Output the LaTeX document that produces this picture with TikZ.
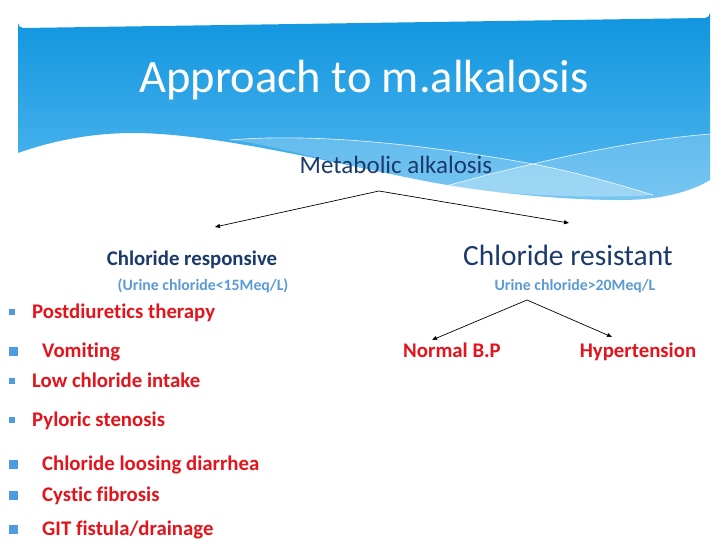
\documentclass[tikz,border=0pt]{standalone}
\usepackage{fontspec}
\setmainfont{Carlito}[Ligatures=NoCommon]
\usetikzlibrary{arrows.meta}
\definecolor{hdrtop}{HTML}{0F95DF}
\definecolor{hdrbot}{HTML}{55B8EF}
\definecolor{darkblue}{HTML}{1B3A6B}
\definecolor{lightblue}{HTML}{5B9BD5}
\definecolor{redtxt}{HTML}{E3141C}
\definecolor{bullet}{HTML}{4F9BE0}
\tikzset{
  fs/.style={font=\fontsize{#1}{#1}\selectfont},
  redtext/.style={text=redtxt, font=\fontsize{20.8}{21}\selectfont\bfseries, anchor=base west, inner sep=0pt},
  redc/.style={text=redtxt, font=\fontsize{20.8}{21}\selectfont\bfseries, anchor=base, inner sep=0pt},
  subtext/.style={text=lightblue, font=\fontsize{15.8}{16}\selectfont\bfseries, anchor=base, inner sep=0pt},
  conn/.style={draw=black, line width=0.7pt, -{Triangle[length=5pt,width=4pt]}},
  smallbul/.style={fill=bullet, draw=none, minimum size=6pt, inner sep=0pt},
  bigbul/.style={fill=bullet, draw=none, minimum size=9pt, inner sep=0pt},
}
\begin{document}
\begin{tikzpicture}[x=1pt,y=-1pt]
\useasboundingbox (0,0) rectangle (728,546);
\fill[white] (0,0) rectangle (728,546);
% header
\shade[top color=hdrtop, bottom color=hdrbot]
  (18,153) -- (18,23) arc[start angle=180,end angle=90,radius=5] -- (705,18)
  arc[start angle=90,end angle=0,radius=5] -- (710,180)
  .. controls (690,192) and (660,200) .. (620,200)
  .. controls (560,200) and (480,192) .. (420,180)
  .. controls (320,160) and (210,133) .. (133,133)
  .. controls (100,133) and (60,138) .. (18,153) -- cycle;
% lighter band A (below upper envelope of the two lines)
\fill[white, opacity=0.2]
  (230,140) .. controls (300,134) and (400,140) .. (533,164)
  .. controls (600,148) and (660,138) .. (710,134) -- (710,180)
  .. controls (690,192) and (660,200) .. (620,200)
  .. controls (560,200) and (480,192) .. (420,180)
  .. controls (320,160) and (260,142) .. (230,140) -- cycle;
% lighter band B (below lower envelope)
\fill[white, opacity=0.3]
  (446,186) .. controls (475,178) and (505,170) .. (533,164)
  .. controls (580,173) and (620,185) .. (653,195)
  .. controls (600,199) and (500,195) .. (446,186) -- cycle;
% thin white lines
\draw[white, line width=0.6pt, opacity=0.9]
  (230,140) .. controls (300,134) and (400,140) .. (533,164)
  .. controls (580,173) and (620,185) .. (653,195);
\draw[white, line width=0.6pt, opacity=0.9]
  (446,186) .. controls (475,178) and (505,170) .. (533,164)
  .. controls (600,148) and (660,138) .. (710,134);

% texts
\node[text=white, fs=46.5, anchor=base, inner sep=0pt] (title) at (364,92) {Approach to m.alkalosis};
\node[text=darkblue, fs=25, anchor=base, inner sep=0pt] (meta) at (396,173) {Metabolic alkalosis};
\node[text=darkblue, font=\fontsize{20.8}{21}\selectfont\bfseries, anchor=base, inner sep=0pt] (resp) at (192,265) {Chloride responsive};
\node[subtext] (respsub) at (203,290) {(Urine chloride<15Meq/L)};
\node[text=darkblue, fs=29.4, anchor=base, inner sep=0pt] (resist) at (568,265) {Chloride resistant};
\node[subtext] (resistsub) at (575,290) {Urine chloride>20Meq/L};
\node[redc] (nbp) at (452,357) {Normal B.P};
\node[redc] (htn) at (638,357) {Hypertension};

% connectors
\coordinate (apex) at (379,191);
\coordinate (tipL) at (215,227);
\coordinate (tipR) at (569,223);
\draw[conn] (apex) -- (tipL);
\draw[conn] (apex) -- (tipR);
\coordinate (apex2) at (527,300);
\coordinate (tipN) at (432,340);
\coordinate (tipH) at (612,337);
\draw[conn] (apex2) -- (tipN);
\draw[conn] (apex2) -- (tipH);

% list
\node[smallbul] (b1) at (12,312) {};
\node[redtext] (l1) at (32,318) {Postdiuretics therapy};
\node[bigbul] (b2) at (13,351) {};
\node[redtext] (l2) at (42,357) {Vomiting};
\node[smallbul] (b3) at (12,381) {};
\node[redtext] (l3) at (32,387) {Low chloride intake};
\node[smallbul] (b4) at (12,420) {};
\node[redtext] (l4) at (32,426) {Pyloric stenosis};
\node[bigbul] (b5) at (13,464) {};
\node[redtext] (l5) at (42,470) {Chloride loosing diarrhea};
\node[bigbul] (b6) at (13,495) {};
\node[redtext] (l6) at (42,501) {Cystic fibrosis};
\node[bigbul] (b7) at (13,529) {};
\node[redtext] (l7) at (42,535) {GIT fistula/drainage};
\end{tikzpicture}
\end{document}
